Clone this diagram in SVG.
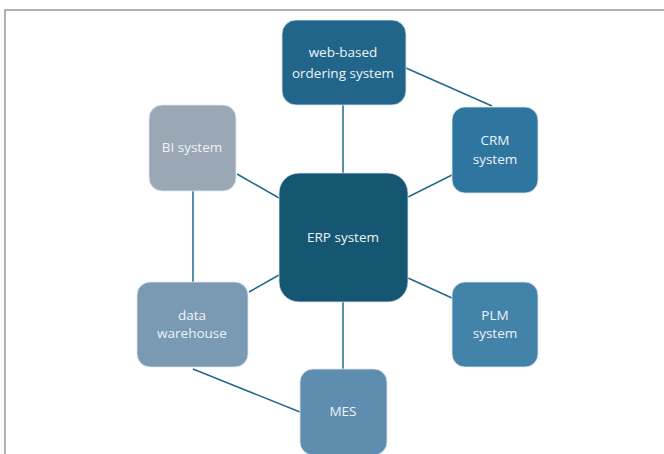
<svg xmlns="http://www.w3.org/2000/svg" width="664" height="454" viewBox="0 0 664 454">
<style>
.frame{fill:none;stroke:#999;stroke-width:1.5}
.box{stroke:#dfe7ee;stroke-width:0.8}
.lbl{font-family:"Open Sans","Noto Sans",sans-serif;font-size:13.5px;fill:#eef3f7;text-anchor:middle}
.edge{stroke:#22688c;stroke-width:1.5;fill:none}
</style>
<rect class="frame" x="5" y="10" width="670" height="460"/>
<g id="connectors">
<line class="edge" x1="343" y1="105" x2="343" y2="173"/>
<line class="edge" x1="406" y1="68" x2="492" y2="106"/>
<line class="edge" x1="408" y1="197" x2="452" y2="175"/>
<line class="edge" x1="408" y1="278" x2="452" y2="298"/>
<line class="edge" x1="343" y1="302" x2="343" y2="369"/>
<line class="edge" x1="237" y1="174" x2="279" y2="198"/>
<line class="edge" x1="249" y1="292" x2="279" y2="275"/>
<line class="edge" x1="193" y1="191" x2="193" y2="282"/>
<line class="edge" x1="193" y1="369" x2="300" y2="412"/>
</g>
<g id="web">
<rect class="box" x="282" y="20" width="124" height="85" rx="14" fill="#21668a"/>
<text class="lbl" x="343" y="57">web-based</text>
<text class="lbl" x="343" y="78">ordering system</text>
</g>
<g id="crm">
<rect class="box" x="452" y="107" width="86" height="86" rx="13" fill="#2e76a0"/>
<text class="lbl" x="495" y="145">CRM</text>
<text class="lbl" x="495" y="164">system</text>
</g>
<g id="erp">
<rect class="box" x="279" y="173" width="129" height="129" rx="20" fill="#155673"/>
<text class="lbl" x="343" y="242">ERP system</text>
</g>
<g id="plm">
<rect class="box" x="452" y="282" width="86" height="85" rx="13" fill="#4383aa"/>
<text class="lbl" x="495" y="320">PLM</text>
<text class="lbl" x="495" y="338">system</text>
</g>
<g id="mes">
<rect class="box" x="300" y="369" width="87" height="86" rx="13" fill="#5e8db0"/>
<text class="lbl" x="343" y="416">MES</text>
</g>
<g id="dw">
<rect class="box" x="137" y="282" width="111" height="85" rx="13" fill="#7a9ab4"/>
<text class="lbl" x="192" y="320">data</text>
<text class="lbl" x="192" y="338">warehouse</text>
</g>
<g id="bi">
<rect class="box" x="149" y="105" width="87" height="86" rx="13" fill="#9aa8b5"/>
<text class="lbl" x="192" y="152">BI system</text>
</g>
</svg>
